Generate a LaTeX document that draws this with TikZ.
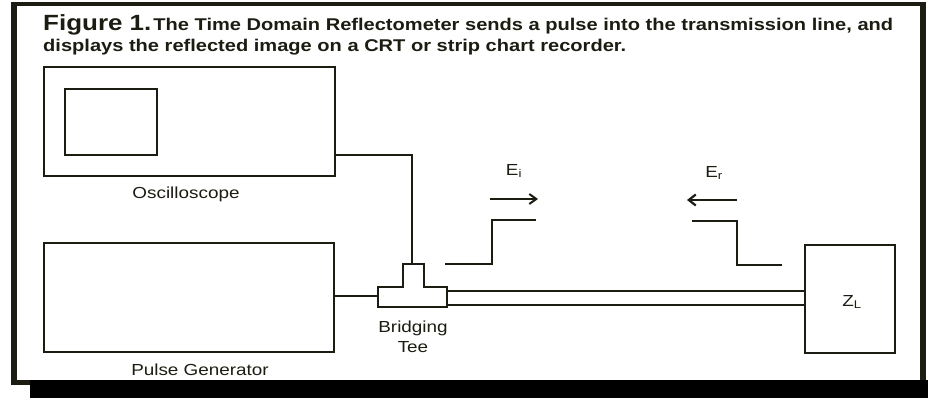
\documentclass[tikz,border=0pt]{standalone}
\usepackage{fontspec}
\setmainfont[FakeStretch=1.18]{Liberation Sans}
\usetikzlibrary{arrows.meta}
\definecolor{ink}{HTML}{1C1C12}
\tikzset{
  wire/.style={draw=ink, line width=1.6pt, line join=miter},
  box/.style={draw=ink, line width=1.8pt},
  lbl/.style={text=ink, inner sep=0pt, font=\fontsize{16}{18}\selectfont},
}
\begin{document}
\begin{tikzpicture}[x=1pt,y=-1pt]
\useasboundingbox (0,0) rectangle (928,398);
\fill[white] (0,0) rectangle (928,398);
% frame
\fill[ink] (11,2) rectangle (17,385);
\fill[ink] (11,2) rectangle (926,6);
\fill[ink] (920,2) rectangle (926,382);
\fill[ink] (11,380) rectangle (32,385);
\fill[black] (30,380) rectangle (928,398);
% title
\node[anchor=base west, text=ink, inner sep=0pt] (title1) at (43,31)
  {\bfseries{\fontsize{22}{24}\selectfont Figure 1.}\kern2pt{\fontsize{17}{20}\selectfont The Time Domain Reflectometer sends a pulse into the transmission line, and}};
\node[anchor=base west, text=ink, inner sep=0pt] (title2) at (43,52)
  {\bfseries\fontsize{17}{20}\selectfont displays the reflected image on a CRT or strip chart recorder.};
% oscilloscope
\node[box, minimum width=291pt, minimum height=109pt, anchor=north west, inner sep=0pt] (osc) at (43,66) {};
\node[box, minimum width=92pt, minimum height=66pt, anchor=north west, inner sep=0pt] (screen) at (64,88) {};
\node[lbl] (osclbl) at (186,194) {Oscilloscope};
% pulse generator
\node[box, minimum width=290pt, minimum height=109pt, anchor=north west, inner sep=0pt] (gen) at (43,242) {};
\node[lbl] (genlbl) at (200,370) {Pulse Generator};
% bridging tee
\coordinate (teeA) at (378,287);
\coordinate (teeB) at (403,287);
\coordinate (teeC) at (403,264);
\coordinate (teeD) at (424,264);
\coordinate (teeE) at (424,287);
\coordinate (teeF) at (447,287);
\coordinate (teeG) at (447,307);
\coordinate (teeH) at (378,307);
\draw[box] (teeA) -- (teeB) -- (teeC) -- (teeD) -- (teeE) -- (teeF) -- (teeG) -- (teeH) -- cycle;
\node[lbl, align=center, font=\fontsize{16}{20}\selectfont] (teelbl) at (413,337) {Bridging\\Tee};
% load
\node[box, minimum width=90pt, minimum height=108pt, anchor=north west, inner sep=0pt] (load) at (804,244) {};
\node[lbl] (zl) at (852,302) {Z\textsubscript{L}};
% connections
\coordinate (oscout) at (osc.east |- 0,155);
\coordinate (oscbend) at (412,155);
\coordinate (teetop) at (412,264);
\draw[wire] (oscout) -- (oscbend) -- (teetop);
\coordinate (genout) at (gen.east |- 0,296);
\coordinate (teein) at (378,296);
\draw[wire] (genout) -- (teein);
% transmission line
\coordinate (lineA1) at (447,291);
\coordinate (lineB1) at (804,291);
\coordinate (lineA2) at (447,305);
\coordinate (lineB2) at (804,305);
\draw[wire] (lineA1) -- (lineB1);
\draw[wire] (lineA2) -- (lineB2);
% incident step
\coordinate (i1) at (445,264);
\coordinate (i2) at (492,264);
\coordinate (i3) at (492,220);
\coordinate (i4) at (536,220);
\draw[wire] (i1) -- (i2) -- (i3) -- (i4);
\coordinate (ia) at (490,199);
\coordinate (ib) at (538,199);
\draw[wire, line width=1.2pt, -{Straight Barb[length=7pt,width=10pt,line width=2pt]}] (ia) -- (ib);
\node[lbl] (ei) at (514,171) {E\textsubscript{i}};
% reflected step
\coordinate (r1) at (692,221);
\coordinate (r2) at (737,221);
\coordinate (r3) at (737,265);
\coordinate (r4) at (782,265);
\draw[wire] (r1) -- (r2) -- (r3) -- (r4);
\coordinate (ra) at (737,200);
\coordinate (rb) at (687,200);
\draw[wire, line width=2.2pt, -{Straight Barb[length=7pt,width=11pt,line width=2.2pt]}] (ra) -- (rb);
\node[lbl] (er) at (714,173) {E\textsubscript{r}};
\end{tikzpicture}
\end{document}
